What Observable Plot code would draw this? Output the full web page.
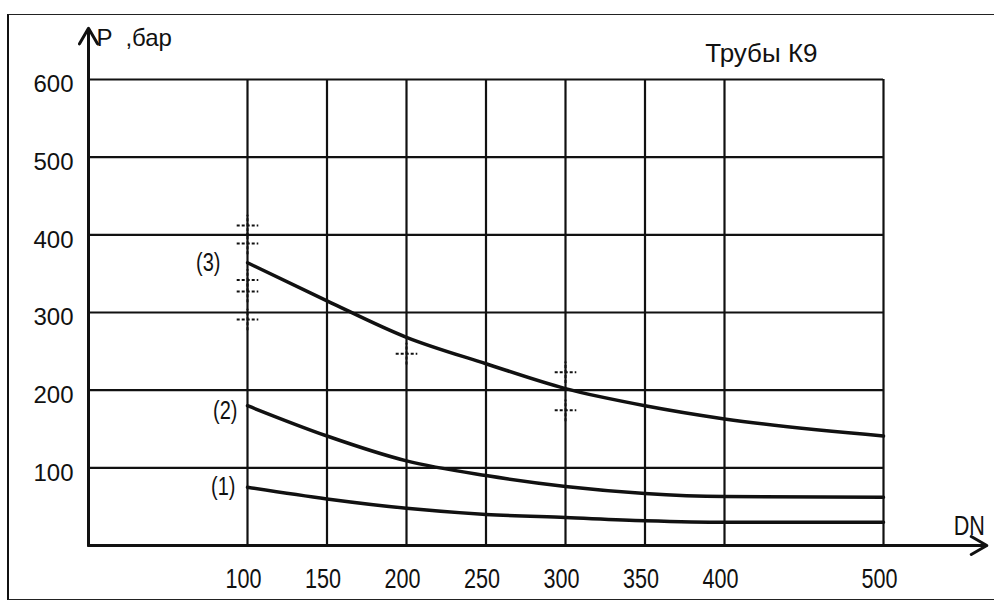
<!DOCTYPE html>
<html>
<head>
<meta charset="utf-8">
<script src="https://cdn.jsdelivr.net/npm/d3@7"></script>
<script src="https://cdn.jsdelivr.net/npm/@observablehq/plot@0.6"></script>
<style>
  html, body { margin: 0; padding: 0; background: #fff; }
  #wrap { position: relative; width: 994px; height: 602px; overflow: hidden; }
  #border { position: absolute; left: 7px; top: 14px; width: 990px; height: 584px;
            border-left: 2px solid #111; border-top: 1.5px solid #222; border-bottom: 1.5px solid #222; }
  #chart { position: absolute; left: 0; top: 0; }
</style>
</head>
<body>
<div id="wrap"><div id="border"></div><div id="chart"></div></div>
<script>
// DN values (x) and pressures (bar)
const dn = [100, 150, 200, 250, 300, 350, 400, 500];
const curve3 = [364, 315, 268, 234, 202, 180, 163, 141];
const curve2 = [180, 141, 109, 90, 76, 67, 63, 62];
const curve1 = [75, 60, 48, 40, 36, 32, 30, 30];
const curveLabels = ["(3)", "(2)", "(1)"];
const xTicks = [100, 150, 200, 250, 300, 350, 400, 500];
const yTicks = [100, 200, 300, 400, 500, 600];
// scattered dashed marks in the scan
const markX = [100, 100, 100, 100, 100, 200, 300, 300];
const markY = [412, 389, 342, 327, 291, 247, 223, 174];

const series = [
  {label: curveLabels[0], vals: curve3},
  {label: curveLabels[1], vals: curve2},
  {label: curveLabels[2], vals: curve1}
];
const lineData = series.flatMap(s => dn.map((d, i) => ({series: s.label, dn: d, p: s.vals[i]})));
const labelData = series.map(s => ({label: s.label, dn: dn[0], p: s.vals[0]}));
const marks = markX.map((x, i) => ({dn: x, p: markY[i]}));

const font = "'Liberation Sans', Arial, sans-serif";
const narrow = "'Liberation Sans Narrow', 'Liberation Sans', Arial, sans-serif";

const chart = Plot.plot({
  width: 994,
  height: 602,
  marginLeft: 88,
  marginRight: 111,
  marginTop: 79,
  marginBottom: 57,
  x: {domain: [0, 500], axis: null},
  y: {domain: [0, 600], axis: null},
  style: {background: "transparent", fontFamily: font, color: "#111"},
  marks: [
    // grid
    Plot.ruleX(xTicks, {y1: 0, y2: 600, stroke: "#111", strokeWidth: 2.2}),
    Plot.ruleY(yTicks, {x1: 0, x2: 500, stroke: "#111", strokeWidth: 2.2}),
    // axes with arrows
    Plot.arrow([{x1: 0, y1: 0, x2: 0, y2: 666}], {x1: "x1", y1: "y1", x2: "x2", y2: "y2", stroke: "#111", strokeWidth: 3, headLength: 9}),
    Plot.arrow([{x1: 0, y1: 0, x2: 565, y2: 0}], {x1: "x1", y1: "y1", x2: "x2", y2: "y2", stroke: "#111", strokeWidth: 3, headLength: 9}),
    // dashed marks
    Plot.dot(marks, {x: "dn", y: "p", symbol: "plus", r: 7, stroke: "#111", strokeWidth: 2, strokeDasharray: "3,2"}),
    // curves
    Plot.line(lineData, {x: "dn", y: "p", z: "series", curve: "monotone-x", stroke: "#111", strokeWidth: 3.5}),
    // curve labels
    Plot.text(labelData.slice(0, 1), {x: "dn", y: "p", text: "label", textAnchor: "end", dx: -27, dy: 0, fontSize: 25, fontFamily: narrow}),
    Plot.text(labelData.slice(1, 2), {x: "dn", y: "p", text: "label", textAnchor: "end", dx: -10, dy: 5, fontSize: 25, fontFamily: narrow}),
    Plot.text(labelData.slice(2, 3), {x: "dn", y: "p", text: "label", textAnchor: "end", dx: -12, dy: 0, fontSize: 25, fontFamily: narrow}),
    // tick labels
    Plot.text(yTicks, {x: 0, y: d => d, text: d => String(d), textAnchor: "end", dx: -15, dy: 5, fontSize: 24, letterSpacing: -1.5, fontFamily: font}),
    Plot.text(xTicks, {x: d => d, y: 0, text: d => String(d), textAnchor: "middle", dx: -4, dy: 34, fontSize: 27, fontFamily: narrow}),
    // axis titles
    Plot.text(["P  ,бар"], {x: 0, y: 665, text: d => d, textAnchor: "start", dx: 8, dy: 9, fontSize: 24, fontFamily: font}),
    Plot.text(["DN"], {x: 565, y: 0, text: d => d, textAnchor: "end", dx: -2, dy: -19, fontSize: 27, fontFamily: narrow}),
    Plot.text(["Трубы К9"], {x: 500, y: 600, text: d => d, textAnchor: "end", dx: -66, dy: -26, fontSize: 26, letterSpacing: 1.2, fontFamily: font})
  ]
});

// condense the narrow-labelled texts horizontally (scan uses a condensed face)
const sx = 0.8;
d3.select(chart).selectAll("g").filter(function() {
  const f = this.getAttribute("font-family");
  return f && f.includes("Narrow");
}).selectAll("text").each(function() {
  const t = d3.select(this);
  const x = this.getAttribute("x");
  let tr = this.getAttribute("transform") || "";
  if (x !== null && !isNaN(+x)) {
    tr = `translate(${+x},0) ` + tr;
    t.attr("x", null);
  }
  t.attr("transform", tr + ` scale(${sx},1)`);
});

document.getElementById("chart").appendChild(chart);
</script>
</body>
</html>
